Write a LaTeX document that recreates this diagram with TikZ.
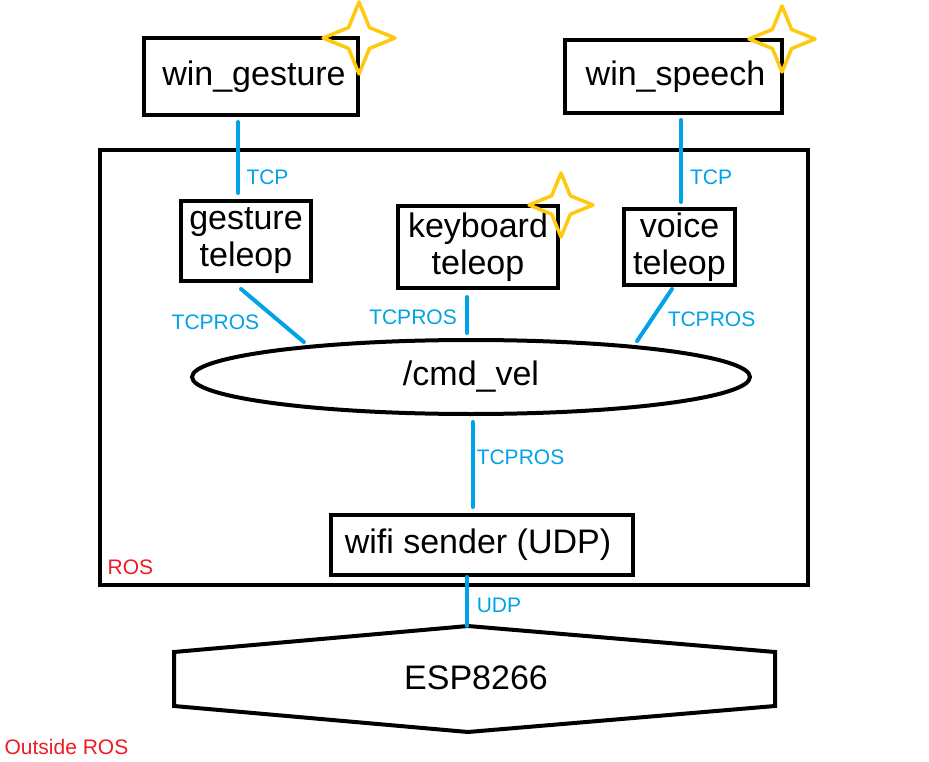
\documentclass[tikz,border=0pt]{standalone}
\usepackage{fontspec}
\setmainfont{Liberation Sans}
\usetikzlibrary{shapes.geometric}

\definecolor{linkblue}{RGB}{0,162,232}
\definecolor{labelred}{RGB}{237,28,36}
\definecolor{stargold}{RGB}{255,201,14}

\tikzset{
  box/.style={draw, line width=4pt, inner sep=0pt, align=center,
    font=\fontsize{34}{37}\selectfont},
  topic/.style={draw, ellipse, line width=4pt, inner sep=0pt,
    minimum width=558pt, minimum height=74pt, font=\fontsize{34}{37}\selectfont},
  link/.style={draw=linkblue, line width=4pt, line cap=round},
  proto/.style={text=linkblue, inner sep=0pt, font=\fontsize{21}{24}\selectfont},
  area/.style={text=labelred, inner sep=0pt, font=\fontsize{21}{24}\selectfont},
  sparkle/.pic={
    \draw[stargold, line width=3.5pt, line join=round] (0,-1) -- (0.29,-0.29) -- (1,0)
      -- (0.29,0.29) -- (0,1) -- (-0.29,0.29) -- (-1,0) -- (-0.29,-0.29) -- cycle;
  }
}

\begin{document}
\begin{tikzpicture}[x=1pt, y=-1pt]
\useasboundingbox (0,0) rectangle (929,762);
\fill[white] (0,0) rectangle (929,762);

% ROS area
\node[box, minimum width=708pt, minimum height=435pt] (ros) at (454,367.5) {};
\node[area] (roslbl) at (130.5,567) {ROS};
\node[area] (outlbl) at (66.5,747) {Outside ROS};

% windows side
\node[box, minimum width=214pt, minimum height=77pt] (wg) at (251,76.5) {\hspace{6pt}win\_gesture};
\node[box, minimum width=217pt, minimum height=73pt] (ws) at (673.5,76.5) {\hspace{4pt}win\_speech};

% teleop nodes
\node[box, minimum width=130pt, minimum height=80pt] (gt) at (246,241) {gesture\\teleop};
\node[box, minimum width=160pt, minimum height=82pt] (kt) at (478,247) {keyboard\\teleop};
\node[box, minimum width=111pt, minimum height=76pt] (vt) at (679.5,247) {voice\\teleop};

% topic and sender
\node[topic] (cmd) at (471,377) {/cmd\_vel};
\node[box, minimum width=302pt, minimum height=60pt] (wf) at (482,545) {wifi sender (UDP)\hspace{8pt}};

% ESP8266
\coordinate (esptop) at (468,626);
\coordinate (espbot) at (468,732);
\draw[line width=4pt] (174,652) -- (esptop) -- (775,652) -- (775,706) -- (espbot) -- (174,706) -- cycle;
\node[font=\fontsize{34}{37}\selectfont, inner sep=0pt] (esp) at (476,677.5) {ESP8266};

% links
\draw[link, shorten <=5pt, shorten >=6pt] ([xshift=-13pt]wg.south) -- ([xshift=-13pt]wg.south |- gt.north);
\draw[link, shorten <=5pt, shorten >=5pt] ([xshift=7.5pt]ws.south) -- ([xshift=7.5pt]ws.south |- vt.north);
\draw[link, shorten >=5pt] ([xshift=-5pt,yshift=-6pt]gt.south) -- (cmd.169.4);
\draw[link, shorten >=5pt] ([xshift=-11pt,yshift=-7pt]kt.south) -- ([xshift=-11pt]kt.south |- cmd.north);
\draw[link, shorten >=5pt] ([xshift=-7.5pt,yshift=-2pt]vt.south) -- (cmd.11.1);
\draw[link, shorten <=6pt, shorten >=6pt] ([xshift=1.5pt]cmd.south) -- ([xshift=1.5pt]cmd.south |- wf.north);
\draw[link] ([xshift=-15pt]wf.south) -- ([xshift=-15pt]wf.south |- esptop);

% protocol labels
\node[proto] (tcpg) at (267.5,177) {TCP};
\node[proto] (tcps) at (711,177) {TCP};
\node[proto] (rosg) at (215.5,322) {TCPROS};
\node[proto] (rosk) at (413,317) {TCPROS};
\node[proto] (rosv) at (711.5,319) {TCPROS};
\node[proto] (rosw) at (520.5,457) {TCPROS};
\node[proto] (udp) at (499,605) {UDP};

% new parts
\pic[scale=36] at (359,38) {sparkle};
\pic[scale=33] at (782,39) {sparkle};
\pic[scale=32] at (561,205) {sparkle};
\end{tikzpicture}
\end{document}
